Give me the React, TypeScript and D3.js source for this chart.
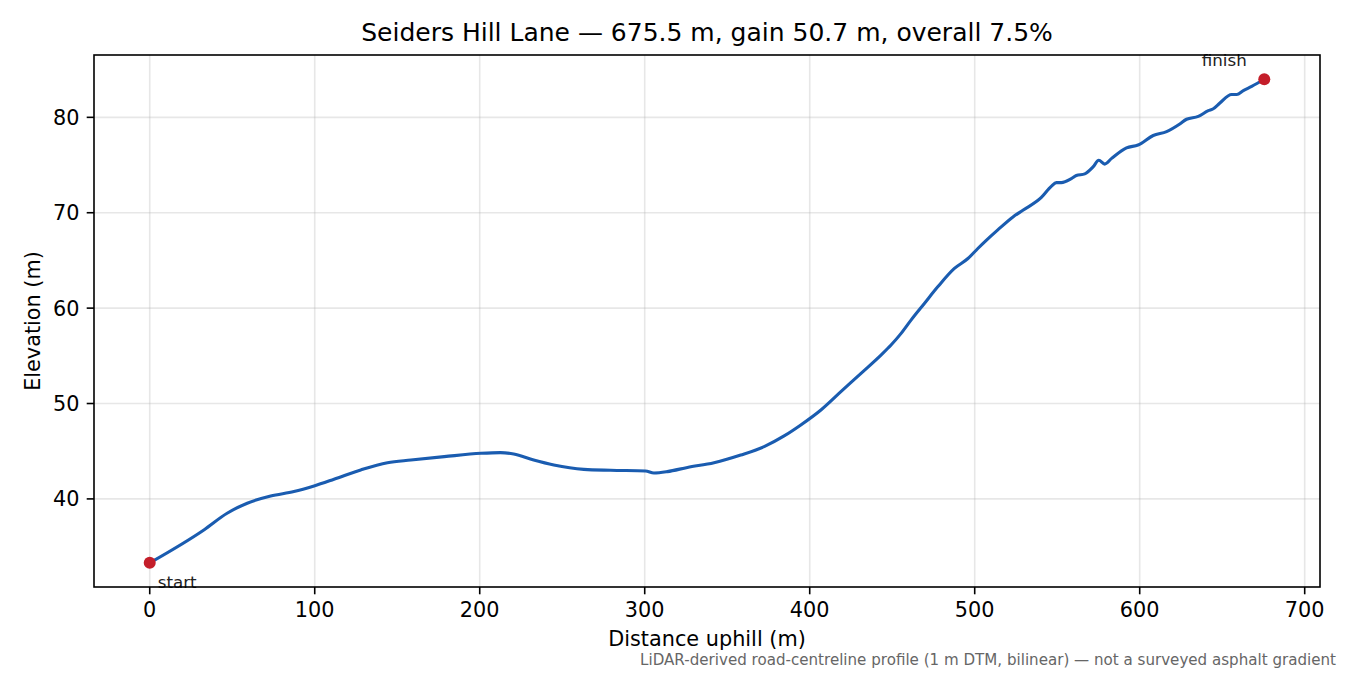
import React from "react";
import * as d3 from "d3";

const distance = [0, 32.8, 46.9, 59.1, 73.3, 87.4, 99.6, 111.7, 127.9, 144.1, 158.3, 178.5, 200.8, 212.5, 220.6, 232.7, 244.9, 263.1, 279.3, 300.5, 305.6, 313.7, 325.9, 342, 358.2, 372.4, 384.5, 394.6, 406.8, 418.9, 431.1, 443.2, 449.3, 455.4, 461.4, 469.5, 477.6, 487.7, 495.9, 501.9, 507, 514, 523.2, 529.2, 540.4, 546.4, 549.5, 552.5, 558.6, 561.6, 566.7, 571.7, 575.2, 578.8, 583, 592, 599, 608.2, 616.3, 624.3, 628.4, 635.5, 641.6, 644.6, 648.6, 655.7, 658.8, 662.8, 667.9, 675.5];
const elevation = [33.3, 36.75, 38.5, 39.55, 40.3, 40.77, 41.36, 42.06, 43.04, 43.8, 44.08, 44.43, 44.78, 44.85, 44.71, 44.08, 43.56, 43.1, 43.0, 42.93, 42.72, 42.86, 43.3, 43.8, 44.6, 45.48, 46.6, 47.75, 49.32, 51.24, 53.16, 55.08, 56.13, 57.35, 58.74, 60.49, 62.23, 64.16, 65.2, 66.25, 67.1, 68.2, 69.56, 70.26, 71.6, 72.77, 73.16, 73.16, 73.58, 73.9, 74.07, 74.8, 75.5, 75.1, 75.7, 76.8, 77.1, 78.1, 78.5, 79.3, 79.8, 80.1, 80.7, 80.9, 81.5, 82.4, 82.4, 82.8, 83.25, 84.0];
const xTicks = [0, 100, 200, 300, 400, 500, 600, 700];
const yTicks = [40, 50, 60, 70, 80];
const titleText = "Seiders Hill Lane — 675.5 m, gain 50.7 m, overall 7.5%";
const xLabel = "Distance uphill (m)";
const yLabel = "Elevation (m)";
const footnote = "LiDAR-derived road-centreline profile (1 m DTM, bilinear) — not a surveyed asphalt gradient";

export default function App() {
  const W = 1350, H = 675;
  const L = 94, R = 1320, T = 55, B = 587;
  const dMax = distance[distance.length - 1];
  const eMin = d3.min(elevation)!;
  const eMax = d3.max(elevation)!;
  const xm = dMax * 0.05;
  const ym = (eMax - eMin) * 0.05;
  const x = d3.scaleLinear().domain([-xm, dMax + xm]).range([L, R]);
  const y = d3.scaleLinear().domain([eMin - ym, eMax + ym]).range([B, T]);
  const pts: [number, number][] = distance.map((d, i) => [d, elevation[i]]);
  const line = d3.line<[number, number]>().x(p => x(p[0])).y(p => y(p[1])).curve(d3.curveMonotoneX);
  const font = "DejaVu Sans, sans-serif";
  const start = pts[0];
  const end = pts[pts.length - 1];
  const tickLen = 7.3;
  const fs = 20.8;
  return (
    <svg width={W} height={H} style={{ position: "absolute", left: 0, top: 0, background: "#fff" }} fontFamily={font}>
      <rect x={0} y={0} width={W} height={H} fill="#fff" />
      <text x={(L + R) / 2} y={41} textAnchor="middle" fontSize={25} fill="#000">{titleText}</text>
      <g>
        {xTicks.map(t => (
          <line key={"gx" + t} x1={x(t)} x2={x(t)} y1={T} y2={B} stroke="#b0b0b0" strokeOpacity={0.3} strokeWidth={1.6} />
        ))}
        {yTicks.map(t => (
          <line key={"gy" + t} x1={L} x2={R} y1={y(t)} y2={y(t)} stroke="#b0b0b0" strokeOpacity={0.3} strokeWidth={1.6} />
        ))}
      </g>
      <path d={line(pts)!} fill="none" stroke="#1a5cb0" strokeWidth={3.1} strokeLinejoin="round" strokeLinecap="round" />
      <circle cx={x(start[0])} cy={y(start[1])} r={6} fill="#c41e2a" />
      <circle cx={x(end[0])} cy={y(end[1])} r={6} fill="#c41e2a" />
      <text x={x(start[0]) + 8} y={y(start[1]) + 25} fontSize={16.7} fill="#222">start</text>
      <text x={x(end[0]) - 40} y={y(end[1]) - 13} textAnchor="middle" fontSize={16.7} fill="#222">finish</text>
      <rect x={L} y={T} width={R - L} height={B - T} fill="none" stroke="#000" strokeWidth={1.6} />
      {xTicks.map(t => (
        <g key={"tx" + t}>
          <line x1={x(t)} x2={x(t)} y1={B} y2={B + tickLen} stroke="#000" strokeWidth={1.6} />
          <text x={x(t)} y={B + 2 * tickLen + 15.5} textAnchor="middle" fontSize={fs} fill="#000">{t}</text>
        </g>
      ))}
      {yTicks.map(t => (
        <g key={"ty" + t}>
          <line x1={L - tickLen} x2={L} y1={y(t)} y2={y(t)} stroke="#000" strokeWidth={1.6} />
          <text x={L - 2 * tickLen} y={y(t) + 7.5} textAnchor="end" fontSize={fs} fill="#000">{t}</text>
        </g>
      ))}
      <text x={(L + R) / 2} y={646} textAnchor="middle" fontSize={fs} fill="#000">{xLabel}</text>
      <text transform={`translate(40,${(T + B) / 2}) rotate(-90)`} textAnchor="middle" fontSize={fs} fill="#000">{yLabel}</text>
      <text x={1336} y={665} textAnchor="end" fontSize={15.1} fill="#666">{footnote}</text>
    </svg>
  );
}
